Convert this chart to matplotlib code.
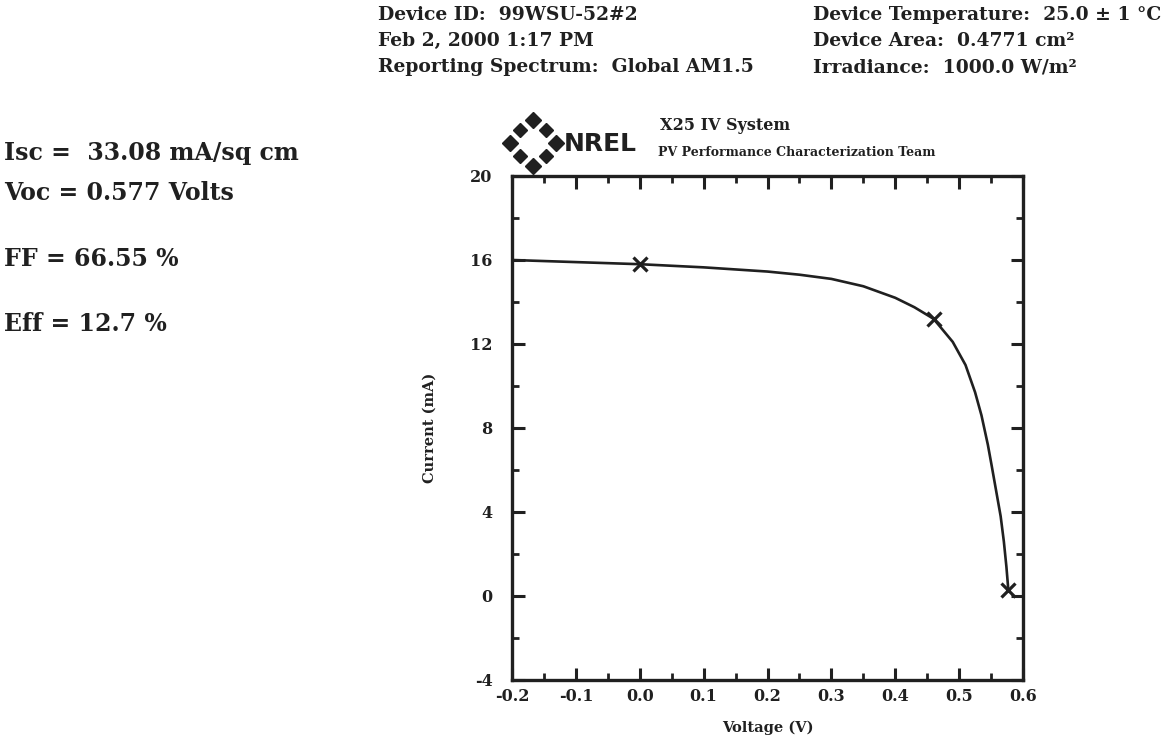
import numpy as np
import matplotlib
matplotlib.use("Agg")
import matplotlib.pyplot as plt
from matplotlib.ticker import MultipleLocator

# I-V sweep of device 99WSU-52#2
voltage = [-0.20, -0.10, 0.00, 0.10, 0.20, 0.25, 0.30, 0.35, 0.40, 0.43, 0.46,
           0.49, 0.51, 0.525, 0.535, 0.545, 0.551, 0.558, 0.565, 0.570, 0.574, 0.577]
current = [16.00, 15.90, 15.80, 15.65, 15.45, 15.30, 15.10, 14.75, 14.20, 13.75, 13.20,
           12.10, 11.00, 9.70, 8.60, 7.20, 6.20, 5.00, 3.80, 2.60, 1.40, 0.30]

# marked points: Isc, max power, Voc
mark_v = [0.00, 0.46, 0.577]
mark_i = [15.80, 13.20, 0.30]

x_ticks = [-0.2, -0.1, 0.0, 0.1, 0.2, 0.3, 0.4, 0.5, 0.6]
x_tick_labels = ["-0.2", "-0.1", "0.0", "0.1", "0.2", "0.3", "0.4", "0.5", "0.6"]
y_ticks = [-4, 0, 4, 8, 12, 16, 20]
y_tick_labels = ["-4", "0", "4", "8", "12", "16", "20"]

header_left = ["Device ID:  99WSU-52#2", "Feb 2, 2000 1:17 PM",
               "Reporting Spectrum:  Global AM1.5"]
header_right = ["Device Temperature:  25.0 \u00b1 1 \u00b0C",
                "Device Area:  0.4771 cm\u00b2", "Irradiance:  1000.0 W/m\u00b2"]
results = ["Isc =  33.08 mA/sq cm", "Voc = 0.577 Volts", "FF = 66.55 %", "Eff = 12.7 %"]

W, H = 1162, 736
fig = plt.figure(figsize=(W / 100, H / 100), dpi=100)
fig.patch.set_facecolor("white")

serif = ["DejaVu Serif"]
ink = "#202020"

# main axes
L, R, T, B = 512, 1023, 176, 680
ax = fig.add_axes([L / W, 1 - B / H, (R - L) / W, (B - T) / H])
ax.plot(voltage, current, color=ink, lw=1.9)
ax.plot(mark_v, mark_i, linestyle="none", marker="x", ms=10, mew=2.3, color=ink)

ax.set_xlim(-0.2, 0.6)
ax.set_ylim(-4, 20)
ax.set_xticks(x_ticks)
ax.set_xticklabels(x_tick_labels)
ax.set_yticks(y_ticks)
ax.set_yticklabels(y_tick_labels)
ax.xaxis.set_minor_locator(MultipleLocator(0.05))
ax.yaxis.set_minor_locator(MultipleLocator(2))
ax.tick_params(which="major", direction="in", length=9, width=2.2,
               top=True, right=True, color=ink)
ax.tick_params(which="minor", direction="in", length=5, width=2.0,
               top=True, right=True, color=ink)
ax.tick_params(axis="x", pad=6)
ax.tick_params(axis="y", pad=14)
for lab in ax.get_xticklabels() + ax.get_yticklabels():
    lab.set_fontfamily(serif)
    lab.set_fontweight("bold")
    lab.set_fontsize(11.5)
    lab.set_color(ink)
for sp in ax.spines.values():
    sp.set_linewidth(2.4)
    sp.set_color(ink)
ax.set_xlabel("Voltage (V)", fontfamily=serif, fontweight="bold", fontsize=10.5,
              color=ink, labelpad=11)
ax.set_ylabel("Current (mA)", fontfamily=serif, fontweight="bold", fontsize=10.5,
              color=ink, labelpad=24)

# header text
for i, s in enumerate(header_left):
    fig.text(378 / W, 1 - (15 + 26 * i) / H, s, fontfamily=serif,
             fontweight="bold", fontsize=13.5, color=ink, va="center", ha="left")
for i, s in enumerate(header_right):
    fig.text(813 / W, 1 - (15 + 26 * i) / H, s, fontfamily=serif,
             fontweight="bold", fontsize=13.5, color=ink, va="center", ha="left")

# summary results
for y, s in zip([153, 193, 259, 324], results):
    fig.text(4 / W, 1 - y / H, s, fontfamily=serif, fontweight="bold",
             fontsize=17, color=ink, va="center", ha="left")

# NREL mark: ring of diamonds
lx, ly = 533, 143
logo = fig.add_axes([(lx - 35) / W, 1 - (ly + 35) / H, 70 / W, 70 / H])
ang = np.deg2rad(np.arange(0, 360, 45) + 90)
logo.plot(np.cos(ang[1::2]) * 0.95, np.sin(ang[1::2]) * 0.95, linestyle="none",
          marker="D", ms=7, color=ink)
logo.plot(np.cos(ang[::2]) * 1.15, np.sin(ang[::2]) * 1.15, linestyle="none",
          marker="D", ms=8.5, color=ink)
logo.set_xlim(-1.75, 1.75)
logo.set_ylim(-1.75, 1.75)
logo.set_aspect("equal")
logo.axis("off")
fig.text(564 / W, 1 - 144 / H, "NREL", fontfamily="DejaVu Sans", fontweight="bold",
         fontsize=18, color=ink, va="center", ha="left")
fig.text(660 / W, 1 - 125 / H, "X25 IV System", fontfamily=serif, fontweight="bold",
         fontsize=11.5, color=ink, va="center", ha="left")
fig.text(658 / W, 1 - 152 / H, "PV Performance Characterization Team", fontfamily=serif,
         fontweight="bold", fontsize=9, color=ink, va="center", ha="left")

fig.savefig("out.png", dpi=100, facecolor="white")
